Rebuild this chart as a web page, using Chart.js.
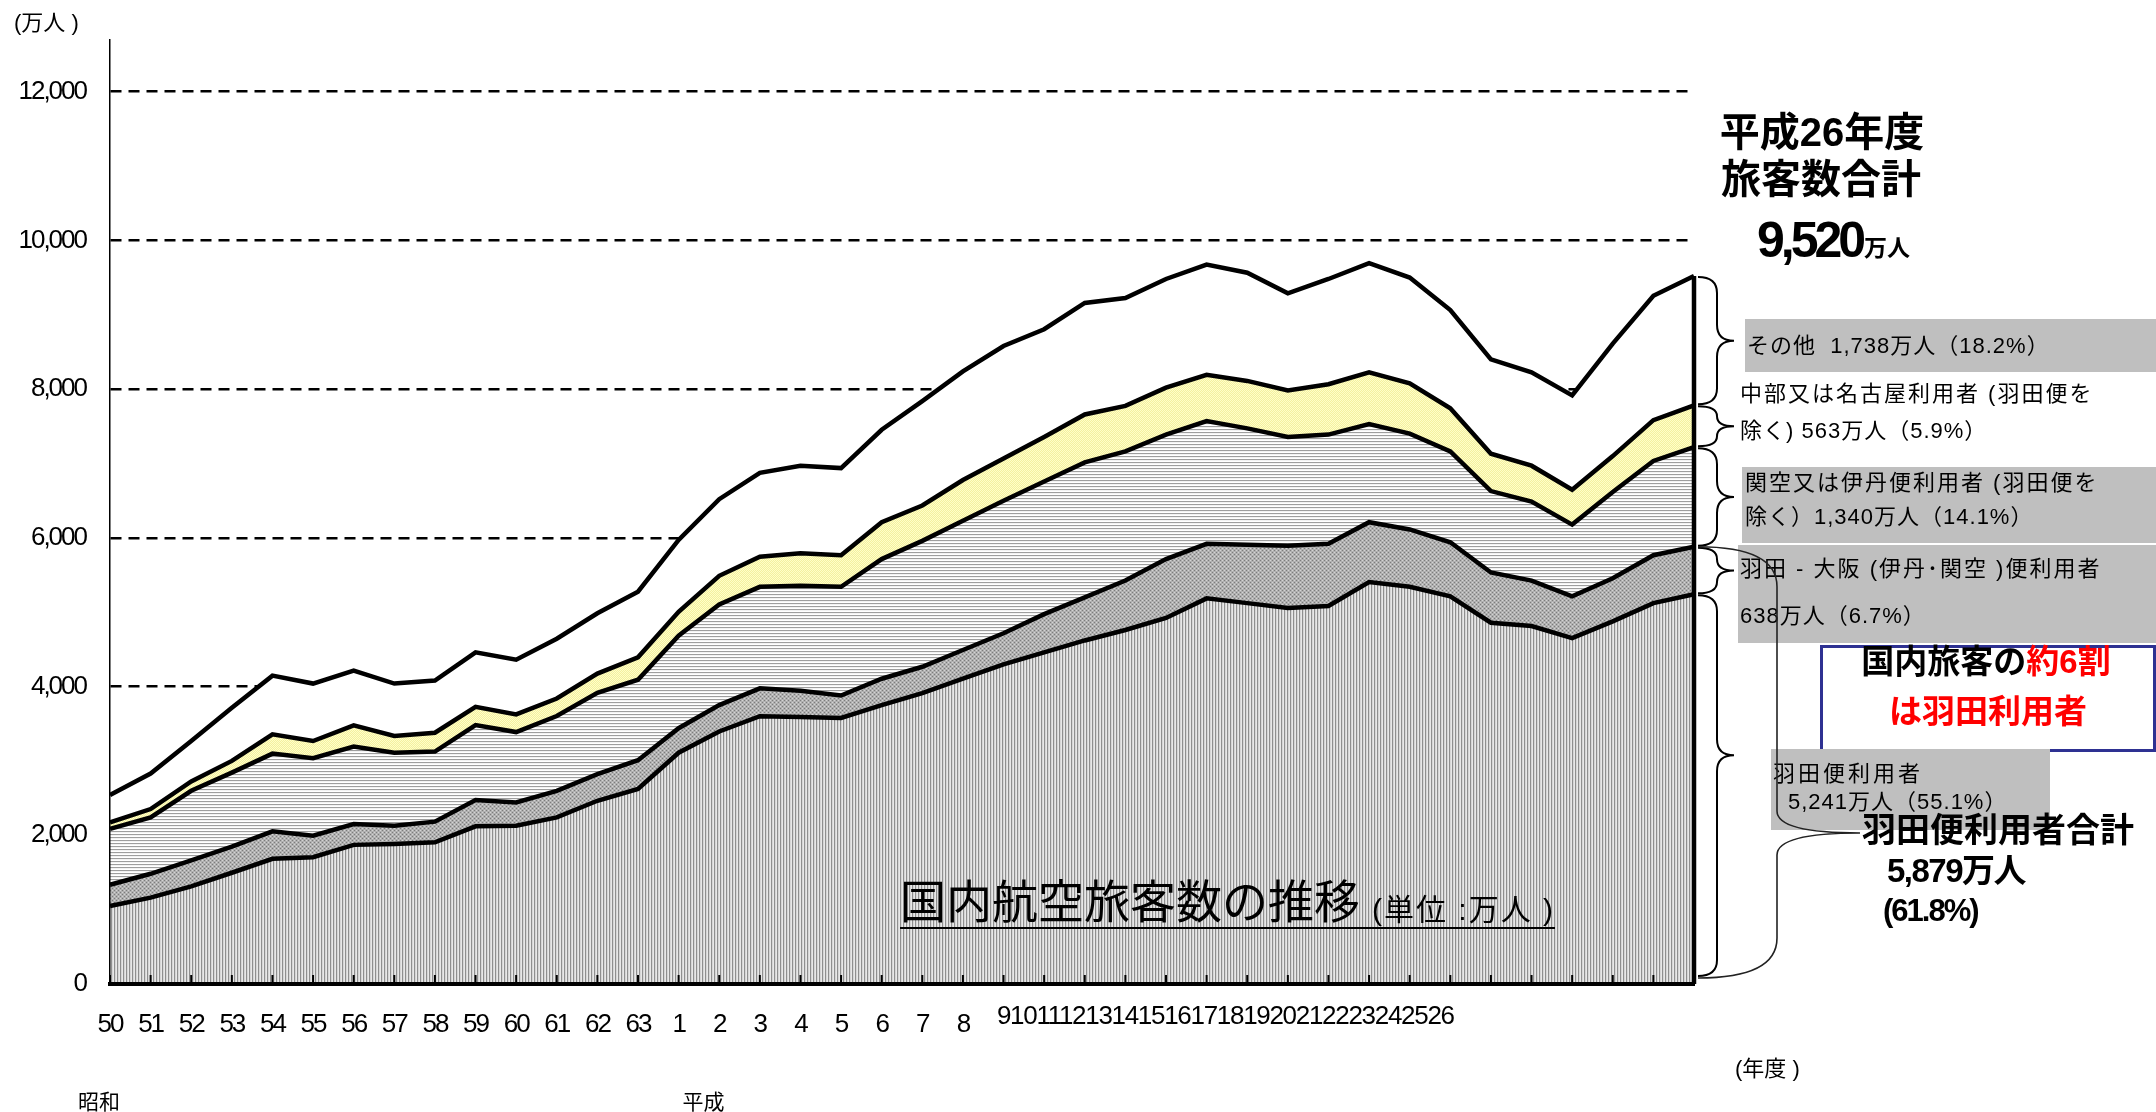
<!DOCTYPE html>
<html lang="ja">
<head>
<meta charset="utf-8">
<title>国内航空旅客数の推移</title>
<script src="https://cdn.jsdelivr.net/npm/chart.js@4.4.1/dist/chart.umd.min.js"></script>
<style>
  html, body { margin: 0; padding: 0; background: #fff; }
  #wrap { position: relative; width: 2156px; height: 1112px; }
</style>
</head>
<body>
<div id="wrap"><canvas id="airChart"></canvas></div>
<script>
// 年度 (昭和50〜63, 平成1〜26)
const years = ['50', '51', '52', '53', '54', '55', '56', '57', '58', '59', '60', '61', '62', '63',
  '1', '2', '3', '4', '5', '6', '7', '8', '9', '10', '11', '12', '13', '14', '15', '16', '17',
  '18', '19', '20', '21', '22', '23', '24', '25', '26'];

// 万人
const haneda = [1049, 1161, 1312, 1496, 1683, 1705, 1871, 1884, 1906, 2120, 2129, 2241, 2464, 2624,
  3110, 3396, 3602, 3589, 3577, 3750, 3911, 4105, 4298, 4459, 4620, 4761, 4922, 5186, 5122, 5058,
  5083, 5405, 5341, 5212, 4858, 4813, 4652, 4877, 5122, 5241];
const hanedaOsaka = [286, 321, 349, 352, 370, 290, 281, 245, 277, 353, 313, 357, 357, 386,
  330, 354, 374, 355, 302, 355, 355, 386, 418, 515, 579, 664, 792, 734, 785, 837,
  837, 805, 772, 728, 676, 612, 560, 580, 644, 638];
const kansaiItami = [750, 759, 937, 995, 1045, 1041, 1040, 982, 942, 1009, 946, 1005, 1094, 1082,
  1244, 1353, 1365, 1410, 1462, 1609, 1693, 1738, 1784, 1783, 1816, 1738, 1674, 1649, 1565, 1461,
  1468, 1320, 1288, 1223, 1095, 1062, 966, 1159, 1268, 1340];
const chubuNagoya = [89, 112, 125, 157, 259, 232, 286, 224, 254, 246, 237, 236, 259, 302,
  322, 386, 405, 438, 425, 496, 476, 548, 566, 599, 644, 612, 631, 624, 638, 625,
  677, 695, 676, 580, 502, 483, 470, 483, 548, 563];
const others = [367, 477, 545, 714, 790, 772, 736, 705, 701, 732, 737, 804, 812, 882,
  966, 1030, 1127, 1178, 1172, 1243, 1404, 1461, 1514, 1449, 1500, 1449, 1462, 1481, 1455, 1307,
  1416, 1469, 1423, 1320, 1268, 1255, 1268, 1513, 1674, 1738];

const yTicks = [0, 2000, 4000, 6000, 8000, 10000, 12000];

const NUM = '"Liberation Sans", Arial, sans-serif';
const JP = '"Liberation Sans", "Noto Sans CJK JP", sans-serif';
const JP_PLAIN = '"Noto Sans CJK JP", sans-serif';

function tile(w, h, paint) {
  const c = document.createElement('canvas');
  c.width = w;
  c.height = h;
  const g = c.getContext('2d');
  paint(g);
  return g.createPattern(c, 'repeat');
}
function px(g, x, y, col) { g.fillStyle = col; g.fillRect(x, y, 1, 1); }

const fillHaneda = tile(3, 1, g => {
  px(g, 0, 0, '#8f8f8f'); px(g, 1, 0, '#d6d6d6'); px(g, 2, 0, '#e8e8e8');
});
const fillHanedaOsaka = tile(4, 4, g => {
  g.fillStyle = '#b0b0b0'; g.fillRect(0, 0, 4, 4);
  px(g, 0, 0, '#7c7c7c'); px(g, 2, 2, '#7c7c7c');
  px(g, 2, 0, '#d4d4d4'); px(g, 0, 2, '#d4d4d4');
});
const fillKansai = tile(1, 3, g => {
  px(g, 0, 0, '#9e9e9e'); px(g, 0, 1, '#f2f2f2'); px(g, 0, 2, '#ffffff');
});
const fillChubu = tile(2, 2, g => {
  px(g, 0, 0, '#ffffc8'); px(g, 1, 1, '#ffffc8');
  px(g, 1, 0, '#f4f0a0'); px(g, 0, 1, '#f4f0a0');
});

const series = [
  { label: '羽田便利用者', data: haneda, bg: fillHaneda },
  { label: '羽田－大阪便利用者', data: hanedaOsaka, bg: fillHanedaOsaka },
  { label: '関空又は伊丹便利用者', data: kansaiItami, bg: fillKansai },
  { label: '中部又は名古屋利用者', data: chubuNagoya, bg: fillChubu },
  { label: 'その他', data: others, bg: '#ffffff' }
];
const totals = years.map((_, i) => series.reduce((s, d) => s + d.data[i], 0));
const hanedaTotal = years.map((_, i) => haneda[i] + hanedaOsaka[i]);

function text(ctx, s, x, y, size, opts = {}) {
  ctx.save();
  ctx.font = (opts.bold ? 'bold ' : '') + size + 'px ' + (opts.family || JP);
  ctx.fillStyle = opts.color || '#000';
  ctx.textAlign = opts.align || 'left';
  ctx.textBaseline = opts.baseline || 'middle';
  ctx.letterSpacing = (opts.spacing || 0) + 'px';
  ctx.fillText(s, x, y);
  const w = ctx.measureText(s).width;
  ctx.restore();
  return w;
}
function measure(ctx, s, size, opts = {}) {
  ctx.save();
  ctx.font = (opts.bold ? 'bold ' : '') + size + 'px ' + (opts.family || JP);
  ctx.letterSpacing = (opts.spacing || 0) + 'px';
  const w = ctx.measureText(s).width;
  ctx.restore();
  return w;
}
function brace(ctx, x0, yTop, yBot, xm, xt, yt, r1, r2) {
  ctx.beginPath();
  ctx.moveTo(x0, yTop);
  ctx.quadraticCurveTo(xm, yTop, xm, yTop + r1);
  ctx.lineTo(xm, yt - r2);
  ctx.quadraticCurveTo(xm, yt, xt, yt);
  ctx.quadraticCurveTo(xm, yt, xm, yt + r2);
  ctx.lineTo(xm, yBot - r1);
  ctx.quadraticCurveTo(xm, yBot, x0, yBot);
  ctx.stroke();
}
function grayBox(ctx, x, y, w, h) {
  ctx.save();
  ctx.fillStyle = '#bfbfbf';
  ctx.fillRect(x, y, w, h);
  ctx.restore();
}

const annotations = {
  id: 'annotations',
  beforeDraw(chart) {
    // tight, condensed-looking tick numbers like the original
    chart.ctx.letterSpacing = '-2px';
  },
  afterDraw(chart) {
    const { ctx, scales: { x, y } } = chart;
    ctx.letterSpacing = '0px';
    const last = years.length - 1;
    const y0 = y.getPixelForValue(0);
    const xEnd = x.getPixelForValue(last);

    // inward tick marks and the closing edge at the last year
    ctx.save();
    ctx.strokeStyle = '#000';
    ctx.lineWidth = 2;
    years.forEach((_, i) => {
      const p = x.getPixelForValue(i);
      ctx.beginPath();
      ctx.moveTo(p, y0);
      ctx.lineTo(p, y0 - 9);
      ctx.stroke();
    });
    ctx.lineWidth = 4.5;
    ctx.beginPath();
    ctx.moveTo(xEnd, y0);
    ctx.lineTo(xEnd, y.getPixelForValue(totals[last]));
    ctx.stroke();
    ctx.restore();

    // crammed year labels 9..26
    const w9 = measure(ctx, years[22], 26, { family: NUM, spacing: -1.3 });
    text(ctx, years.slice(22).join(''), x.getPixelForValue(22) - w9 / 2, y0 + 33, 26,
      { family: NUM, spacing: -1.3 });

    text(ctx, '(万人 )', 14, 24, 22);
    text(ctx, '昭和', x.getPixelForValue(0) - 11, 1101, 21, { align: 'center', family: JP_PLAIN });
    text(ctx, '平成', x.getPixelForValue(14) + 25, 1101, 21, { align: 'center', family: JP_PLAIN });
    text(ctx, '(年度 )', 1735, 1070, 22);

    // title
    const tw = text(ctx, '国内航空旅客数の推移', 900, 918, 46, { family: JP_PLAIN, baseline: 'alphabetic' });
    const uw = text(ctx, '(単位 :万人 )', 900 + tw + 12, 920, 30, { baseline: 'alphabetic', spacing: 2 });
    ctx.save();
    ctx.strokeStyle = '#000';
    ctx.lineWidth = 2;
    ctx.beginPath();
    ctx.moveTo(900, 928);
    ctx.lineTo(912 + tw + uw, 928);
    ctx.stroke();
    ctx.restore();

    // total for the last year
    text(ctx, '平成26年度', 1822, 135, 40, { bold: true, align: 'center' });
    text(ctx, '旅客数合計', 1821, 182, 40, { bold: true, align: 'center' });
    const nw = text(ctx, '9,520', 1757, 257, 50, { bold: true, family: NUM, spacing: -4, baseline: 'alphabetic' });
    text(ctx, '万人', 1757 + nw + 2, 256, 23, { bold: true, baseline: 'alphabetic' });

    // labelled boxes
    grayBox(ctx, 1745, 319, 411, 53);
    text(ctx, 'その他  1,738万人（18.2%）', 1747, 347, 22, { spacing: 1 });

    text(ctx, '中部又は名古屋利用者 (羽田便を', 1740, 395, 22, { spacing: 2 });
    text(ctx, '除く) 563万人（5.9%）', 1740, 432, 22, { spacing: 1 });

    grayBox(ctx, 1742, 467, 414, 76);
    text(ctx, '関空又は伊丹便利用者 (羽田便を', 1745, 484, 22, { spacing: 2 });
    text(ctx, '除く）1,340万人（14.1%）', 1745, 518, 22, { spacing: 1 });

    grayBox(ctx, 1738, 545, 418, 98);
    text(ctx, '羽田 - 大阪 (伊丹･関空 )便利用者', 1740, 570, 22, { spacing: 2 });
    text(ctx, '638万人（6.7%）', 1740, 617, 22, { spacing: 1 });

    ctx.save();
    ctx.fillStyle = '#fff';
    ctx.fillRect(1821, 646, 333, 105);
    ctx.strokeStyle = '#2e3192';
    ctx.lineWidth = 3;
    ctx.strokeRect(1821.5, 646.5, 333, 104);
    ctx.restore();
    const a = measure(ctx, '国内旅客の', 33, { bold: true });
    const b = measure(ctx, '約6割', 33, { bold: true });
    const sx = 1986 - (a + b) / 2;
    text(ctx, '国内旅客の', sx, 664, 33, { bold: true });
    text(ctx, '約6割', sx + a, 664, 33, { bold: true, color: '#ff0000' });
    text(ctx, 'は羽田利用者', 1988, 714, 33, { bold: true, align: 'center', color: '#ff0000' });

    grayBox(ctx, 1771, 749, 279, 81);
    text(ctx, '羽田便利用者', 1773, 775, 22, { spacing: 3 });
    text(ctx, '5,241万人（55.1%）', 1788, 803, 22, { spacing: 1 });

    // braces at the last year
    ctx.save();
    ctx.strokeStyle = '#000';
    ctx.lineWidth = 2;
    const bx = xEnd + 4;
    const edges = [0, haneda[last], hanedaTotal[last],
      hanedaTotal[last] + kansaiItami[last],
      hanedaTotal[last] + kansaiItami[last] + chubuNagoya[last], totals[last]];
    for (let k = 0; k < edges.length - 1; k++) {
      const top = y.getPixelForValue(edges[k + 1]) + 1;
      const bot = y.getPixelForValue(edges[k]) - (k === 0 ? 8 : 1);
      const r = Math.min(16, (bot - top) / 4);
      const mid = k === 0 ? top + (bot - top) * 0.42 : (top + bot) / 2;
      brace(ctx, bx, top, bot, bx + 19, bx + 36, mid, r, r);
    }
    ctx.strokeStyle = '#222';
    ctx.lineWidth = 1.6;
    brace(ctx, bx, y.getPixelForValue(hanedaTotal[last]), y0 - 6, bx + 79, 1860, 833, 40, 22);
    ctx.restore();

    text(ctx, '羽田便利用者合計', 1862, 833, 34, { bold: true });
    text(ctx, '5,879万人', 1887, 873, 33, { bold: true, spacing: -1.5 });
    text(ctx, '(61.8%)', 1883, 912, 31, { bold: true, spacing: -2 });
  }
};

new Chart(document.getElementById('airChart'), {
  type: 'line',
  data: {
    labels: years,
    datasets: series.map((s, i) => ({
      label: s.label,
      data: s.data,
      backgroundColor: s.bg,
      fill: i === 0 ? 'origin' : '-1',
      borderColor: '#000',
      borderWidth: 4.5,
      pointRadius: 0,
      tension: 0
    }))
  },
  options: {
    responsive: true,
    maintainAspectRatio: false,
    animation: false,
    layout: { padding: { top: 37, right: 462, bottom: 0, left: 0 } },
    plugins: { legend: { display: false }, tooltip: { enabled: false } },
    scales: {
      x: {
        type: 'category',
        offset: false,
        grid: { display: false },
        border: { display: true, color: '#000', width: 4, z: 1 },
        ticks: {
          autoSkip: false,
          maxRotation: 0,
          minRotation: 0,
          padding: 17,
          color: '#000',
          font: { family: NUM, size: 26 },
          callback: (v, i) => (i < 22 ? years[i] : '')
        },
        afterFit: s => { s.height = 128; }
      },
      y: {
        stacked: true,
        min: 0,
        max: 12700,
        afterBuildTicks: s => { s.ticks = yTicks.map(v => ({ value: v })); },
        grid: {
          color: c => (c.tick && c.tick.value > 0 ? '#000' : 'rgba(0,0,0,0)'),
          lineWidth: 2.5,
          drawTicks: false
        },
        border: { display: true, color: '#000', width: 1.5, z: 1, dash: [11, 7] },
        ticks: {
          padding: 24,
          color: '#000',
          font: { family: NUM, size: 26 },
          callback: v => v.toLocaleString('en-US')
        },
        afterFit: s => { s.width = 110; }
      }
    }
  },
  plugins: [annotations]
});
</script>
</body>
</html>
